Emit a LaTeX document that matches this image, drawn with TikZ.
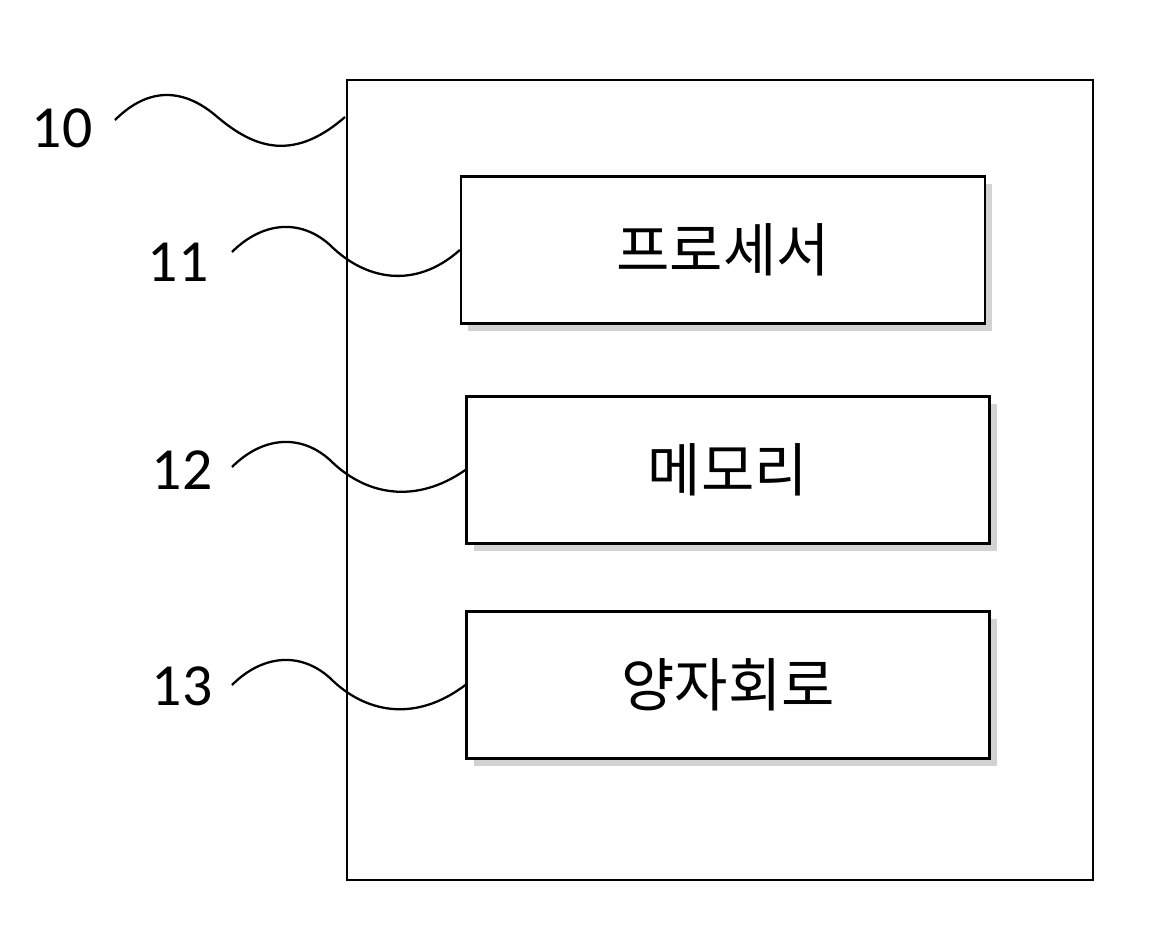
\documentclass[tikz,border=0pt]{standalone}
\usepackage{fontspec}
\setmainfont{Carlito}
\newfontfamily\kr{Noto Sans CJK KR}
\usetikzlibrary{shadows}

\begin{document}
\begin{tikzpicture} [
        x=0.02cm, y=-0.02cm, line width=1.3pt,
        box/.style={draw, fill=white, drop shadow={shadow xshift=4pt, shadow yshift=-4pt, fill=black!35}},
        num/.style={font=\fontsize{34}{34}\selectfont},
        wave/.style={line width=1.3pt}
    ]
        \useasboundingbox (0,0) rectangle (1156,951);

        % outer device
        \draw (347,80) rectangle (1093,880);
        \coordinate (dev) at (345,117);

        % blocks
        \node[box, minimum width=524*0.02cm, minimum height=147*0.02cm, font=\kr\fontsize{33}{33}\selectfont] (proc) at (723,250) {프로세서};
        \node[box, minimum width=523*0.02cm, minimum height=147*0.02cm, font=\kr\fontsize{33}{33}\selectfont] (mem) at (728,470) {메모리};
        \node[box, minimum width=523*0.02cm, minimum height=147*0.02cm, font=\kr\fontsize{33}{33}\selectfont] (qc) at (728,685) {양자회로};

        % reference numerals
        \node[num] (n10) at (62,128) {10};
        \node[num] (n11) at (178,262) {11};
        \node[num] (n12) at (182,470) {12};
        \node[num] (n13) at (182,686) {13};

        \draw[wave] (115,120) .. controls (150,85) and (185,90) .. (215,115) .. controls (250,145) and (290,165) .. (dev);
        \draw[wave] (232,252) .. controls (262,222) and (300,218) .. (330,245) .. controls (365,280) and (415,290) .. (proc.west);
        \draw[wave] (232,467) .. controls (262,437) and (300,433) .. (330,460) .. controls (365,495) and (415,505) .. (mem.west);
        \draw[wave] (232,685) .. controls (262,655) and (300,651) .. (330,678) .. controls (365,713) and (415,723) .. (qc.west);
\end{tikzpicture}
\end{document}
